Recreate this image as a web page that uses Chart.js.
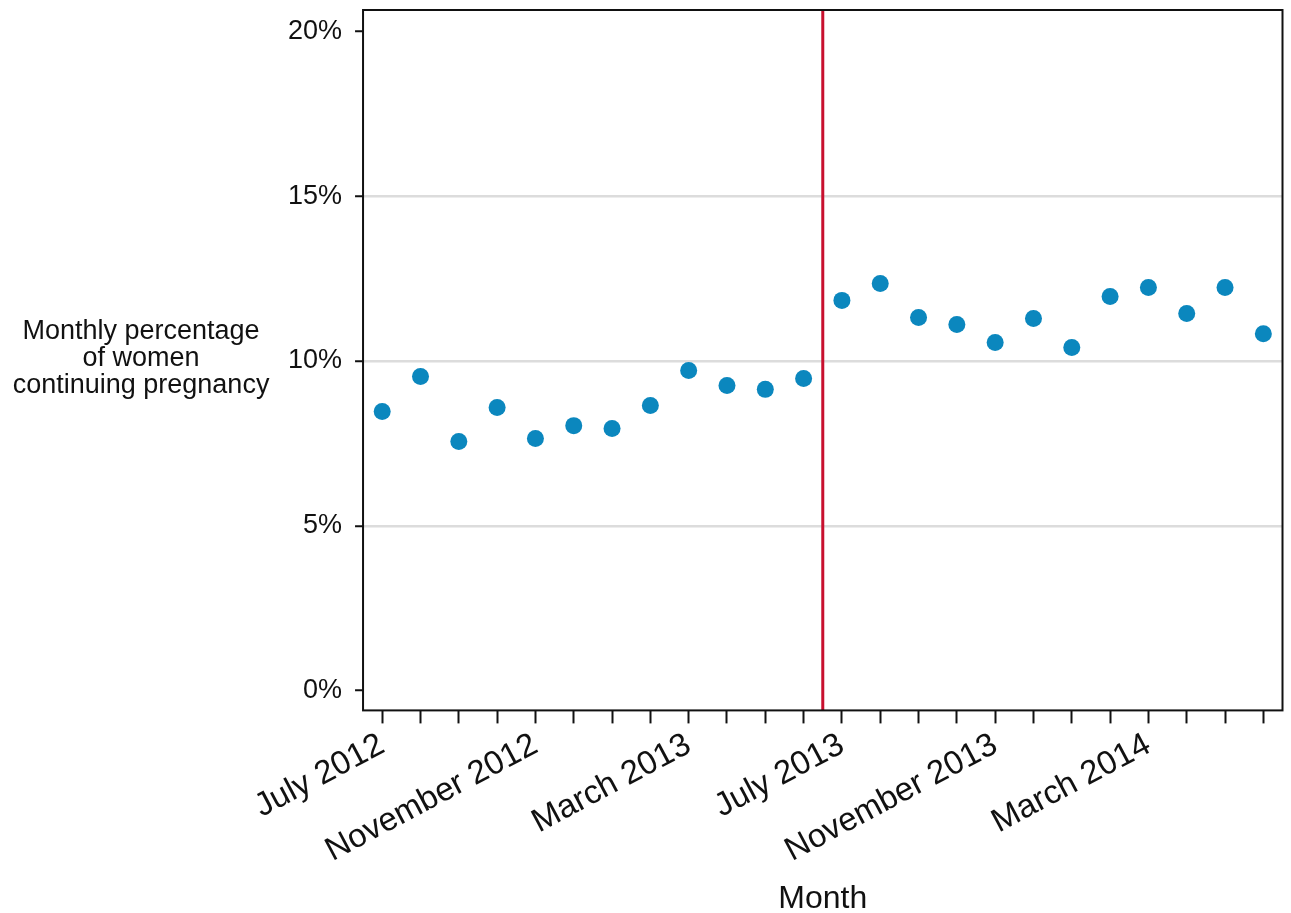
<!DOCTYPE html>
<html>
<head>
<meta charset="utf-8">
<script src="https://cdn.jsdelivr.net/npm/chart.js@4/dist/chart.umd.min.js"></script>
<style>
  html, body { margin: 0; padding: 0; background: #fff; }
  #wrap { width: 1291px; height: 913px; }
</style>
</head>
<body>
<div id="wrap"><canvas id="myChart" width="1291" height="913"></canvas></div>
<script>
// monthly values
var months = ["July 2012", "August 2012", "September 2012", "October 2012", "November 2012", "December 2012",
  "January 2013", "February 2013", "March 2013", "April 2013", "May 2013", "June 2013",
  "July 2013", "August 2013", "September 2013", "October 2013", "November 2013", "December 2013",
  "January 2014", "February 2014", "March 2014", "April 2014", "May 2014", "June 2014"];
var pctContinuing = [8.47, 9.53, 7.56, 8.59, 7.65, 8.04, 7.95, 8.65, 9.71, 9.26, 9.14, 9.47,
  11.84, 12.35, 11.32, 11.11, 10.56, 11.29, 10.41, 11.96, 12.23, 11.44, 12.23, 10.83];
var yTicks = [0, 5, 10, 15, 20];
var yTitleLines = ["Monthly percentage", "of women", "continuing pregnancy"];
// policy change falls between June 2013 and July 2013
var breakIndex = 11.5;

// frame, red break line and horizontal y title
var extras = {
  id: 'extras',
  beforeDatasetsDraw: function(chart) {
    var ctx = chart.ctx, a = chart.chartArea;
    var x = chart.scales.x.getPixelForValue(breakIndex);
    ctx.save();
    ctx.strokeStyle = '#c8102e';
    ctx.lineWidth = 3;
    ctx.beginPath();
    ctx.moveTo(x, a.top);
    ctx.lineTo(x, a.bottom);
    ctx.stroke();
    ctx.restore();
  },
  afterDraw: function(chart) {
    var ctx = chart.ctx, a = chart.chartArea;
    ctx.save();
    ctx.strokeStyle = '#111';
    ctx.lineWidth = 2;
    ctx.strokeRect(a.left, a.top, a.right - a.left, a.bottom - a.top);
    ctx.fillStyle = '#111';
    ctx.font = '27px "Liberation Sans", Arial, sans-serif';
    ctx.textAlign = 'center';
    ctx.textBaseline = 'middle';
    var cx = a.left - 222, cy = (a.top + a.bottom) / 2 - 2;
    for (var i = 0; i < yTitleLines.length; i++) {
      ctx.fillText(yTitleLines[i], cx, cy + (i - 1) * 27);
    }
    ctx.restore();
  }
};

var ctx = document.getElementById("myChart").getContext('2d');
var myChart = new Chart(ctx, {
  type: 'line',
  data: {
    labels: months,
    datasets: [{
      data: pctContinuing,
      showLine: false,
      pointRadius: 8.5,
      pointHoverRadius: 8.5,
      pointBackgroundColor: '#0b87be',
      pointBorderWidth: 0
    }]
  },
  plugins: [extras],
  options: {
    responsive: false,
    animation: false,
    events: [],
    layout: { padding: { left: 275, right: 3, top: 10, bottom: -5 } },
    plugins: { legend: { display: false }, tooltip: { enabled: false } },
    scales: {
      x: {
        offset: true,
        border: { display: false },
        afterFit: function(scale) { scale.paddingLeft = 0; scale.paddingRight = 0; },
        grid: { drawOnChartArea: false, drawTicks: true, tickLength: 13, tickColor: '#111', tickWidth: 2 },
        ticks: {
          autoSkip: false,
          minRotation: 28,
          maxRotation: 28,
          padding: 2,
          color: '#111',
          font: { family: '"Liberation Sans", Arial, sans-serif', size: 33 },
          callback: function(val, i) { return i % 4 === 0 ? months[i] : ''; }
        },
        title: {
          display: true,
          text: 'Month',
          color: '#111',
          padding: { top: 7, bottom: 0 },
          font: { family: '"Liberation Sans", Arial, sans-serif', size: 32 }
        }
      },
      y: {
        min: -0.6,
        max: 20.65,
        border: { display: false },
        afterFit: function(scale) { scale.paddingTop = 0; scale.paddingBottom = 0; },
        afterBuildTicks: function(scale) {
          scale.ticks = yTicks.map(function(v) { return { value: v }; });
        },
        grid: {
          drawTicks: true,
          tickLength: 8,
          tickColor: '#111',
          tickWidth: 2,
          lineWidth: 2.5,
          color: function(c) {
            var v = c.tick && c.tick.value;
            return (v === 0 || v === 20) ? 'rgba(0,0,0,0)' : '#dcdcdc';
          }
        },
        ticks: {
          padding: 13,
          color: '#111',
          font: { family: '"Liberation Sans", Arial, sans-serif', size: 27, lineHeight: 0.75 },
          callback: function(v) { return v + '%'; }
        }
      }
    }
  }
});
</script>
</body>
</html>
